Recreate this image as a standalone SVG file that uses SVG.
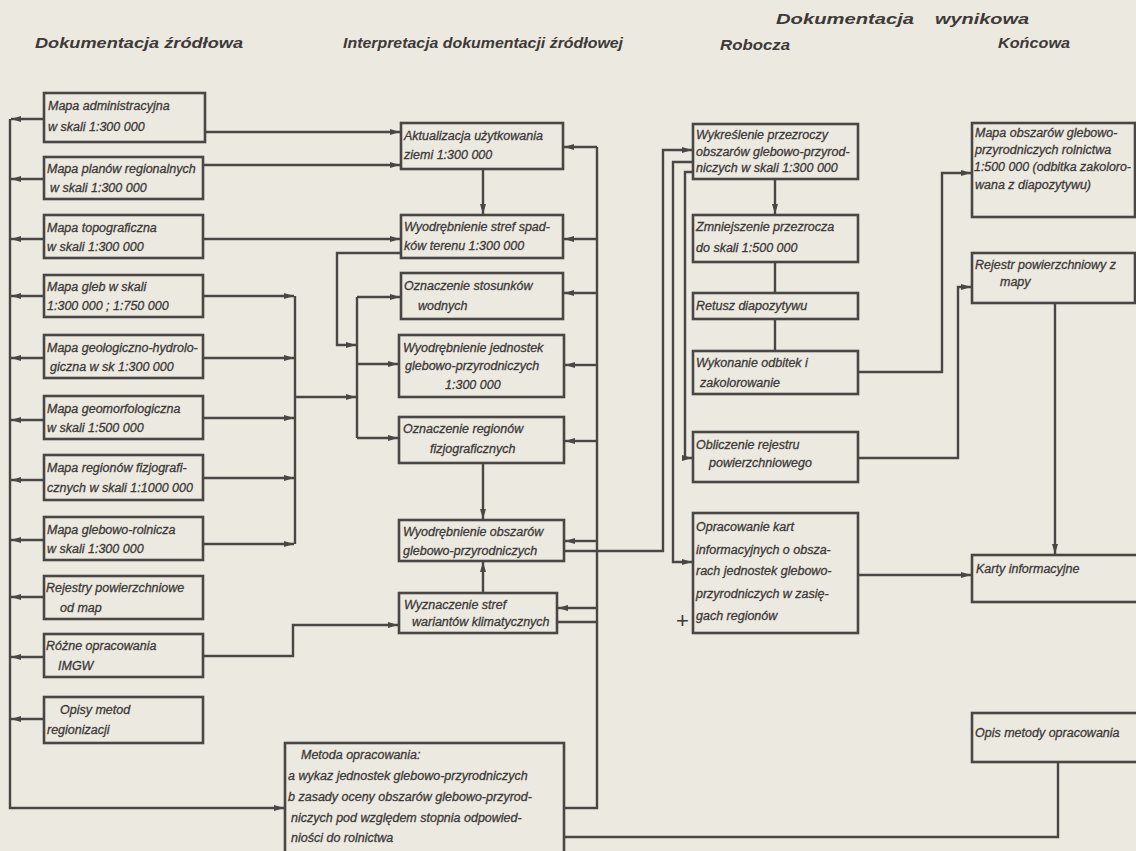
<svg xmlns="http://www.w3.org/2000/svg" width="1136" height="851" viewBox="0 0 1136 851">
<defs>
<marker id="ah" viewBox="0 0 10 6" refX="10" refY="3" markerWidth="10" markerHeight="6" markerUnits="userSpaceOnUse" orient="auto"><path d="M0,0 L10,3 L0,6 z" fill="#4a4643"/></marker>
<style>
.bx{fill:none;stroke:#4a4643;stroke-width:2.6}
.ln{fill:none;stroke:#4a4643;stroke-width:2.4}
.ar{marker-end:url(#ah)}
.t{font-family:"Liberation Sans",Arial,sans-serif;font-style:italic;font-size:12.5px;fill:#3d3a37;stroke:#3d3a37;stroke-width:0.3}
.h{font-family:"Liberation Sans",Arial,sans-serif;font-style:italic;font-weight:bold;font-size:14.5px;fill:#3d3a37}
</style>
</defs>
<rect x="0" y="0" width="1136" height="851" fill="#ece9e1"/>

<g id="headers">
<text class="h" x="776" y="24" textLength="138" lengthAdjust="spacingAndGlyphs">Dokumentacja</text>
<text class="h" x="935" y="24" textLength="94" lengthAdjust="spacingAndGlyphs">wynikowa</text>
<text class="h" x="35" y="48" textLength="208" lengthAdjust="spacingAndGlyphs">Dokumentacja źródłowa</text>
<text class="h" x="343" y="48" textLength="280" lengthAdjust="spacingAndGlyphs">Interpretacja dokumentacji źródłowej</text>
<text class="h" x="720" y="50" textLength="70" lengthAdjust="spacingAndGlyphs">Robocza</text>
<text class="h" x="998" y="48" textLength="72" lengthAdjust="spacingAndGlyphs">Końcowa</text>
</g>

<g id="connectors">
<path class="ln" d="M10,119 V808 H284" style="marker-end:url(#ah)"/>
<path class="ln ar" d="M44,119 H11"/>
<path class="ln ar" d="M44,179 H11"/>
<path class="ln ar" d="M44,239 H11"/>
<path class="ln ar" d="M44,296 H11"/>
<path class="ln ar" d="M44,358 H11"/>
<path class="ln ar" d="M44,420 H11"/>
<path class="ln ar" d="M44,480 H11"/>
<path class="ln ar" d="M44,540 H11"/>
<path class="ln ar" d="M44,597 H11"/>
<path class="ln ar" d="M44,657 H11"/>
<path class="ln ar" d="M44,719 H11"/>
<path class="ln ar" d="M205,132 H400"/>
<path class="ln ar" d="M203,165 H400"/>
<path class="ln ar" d="M203,239 H400"/>
<path class="ln ar" d="M203,296 H294"/>
<path class="ln" d="M295,296 V544"/>
<path class="ln ar" d="M203,358 H294"/>
<path class="ln ar" d="M203,418 H294"/>
<path class="ln ar" d="M203,478 H294"/>
<path class="ln ar" d="M203,544 H294"/>
<path class="ln ar" d="M295,397 H356"/>
<path class="ln ar" d="M203,656 H293 V625 H398"/>
<path class="ln ar" d="M401,253 H337 V345 H356"/>
<path class="ln ar" d="M357,297 H400"/>
<path class="ln" d="M357,297 V438"/>
<path class="ln ar" d="M357,364 H398"/>
<path class="ln ar" d="M357,438 H398"/>
<path class="ln ar" d="M483,169 V214"/>
<path class="ln ar" d="M483,463 V519"/>
<path class="ln ar" d="M483,593 V562"/>
<path class="ln" d="M564,808 H597 V147"/>
<path class="ln ar" d="M597,147 H564"/>
<path class="ln ar" d="M597,239 H564"/>
<path class="ln ar" d="M597,293 H564"/>
<path class="ln ar" d="M597,365 H565"/>
<path class="ln ar" d="M597,441 H565"/>
<path class="ln ar" d="M597,541 H565"/>
<path class="ln ar" d="M597,608 H558"/>
<path class="ln" d="M557,622 H597"/>
<path class="ln ar" d="M564,551 H663 V150 H692"/>
<path class="ln ar" d="M692,162 H673 V562 H692"/>
<path class="ln ar" d="M692,172 H685 V458 H692"/>
<path class="ln ar" d="M775,179 V214"/>
<path class="ln" d="M775,262 V293"/>
<path class="ln" d="M775,319 V351"/>
<path class="ln ar" d="M858,372 H942 V173 H971"/>
<path class="ln ar" d="M858,458 H958 V287 H971"/>
<path class="ln ar" d="M858,575 H971"/>
<path class="ln ar" d="M1055,303 V554"/>
<path class="ln" d="M1058,762 V837 H564"/>
</g>

<g id="src1"><rect class="bx" x="44" y="93" width="161" height="49"/><text class="t" x="48" y="110">Mapa administracyjna</text><text class="t" x="48" y="131">w skali 1:300 000</text></g>
<g id="src2"><rect class="bx" x="44" y="157" width="159" height="42"/><text class="t" x="47" y="173">Mapa planów regionalnych</text><text class="t" x="50" y="192">w skali 1:300 000</text></g>
<g id="src3"><rect class="bx" x="44" y="215" width="159" height="43"/><text class="t" x="47" y="232">Mapa topograficzna</text><text class="t" x="47" y="251">w skali 1:300 000</text></g>
<g id="src4"><rect class="bx" x="44" y="275" width="159" height="42"/><text class="t" x="47" y="291">Mapa gleb w skali</text><text class="t" x="47" y="310">1:300 000 ; 1:750 000</text></g>
<g id="src5"><rect class="bx" x="44" y="335" width="159" height="43"/><text class="t" x="47" y="352">Mapa geologiczno-hydrolo-</text><text class="t" x="50" y="371">giczna w sk 1:300 000</text></g>
<g id="src6"><rect class="bx" x="44" y="396" width="159" height="43"/><text class="t" x="47" y="413">Mapa geomorfologiczna</text><text class="t" x="47" y="432">w skali 1:500 000</text></g>
<g id="src7"><rect class="bx" x="44" y="455" width="159" height="45"/><text class="t" x="47" y="472">Mapa regionów fizjografi-</text><text class="t" x="47" y="492">cznych w skali 1:1000 000</text></g>
<g id="src8"><rect class="bx" x="44" y="517" width="159" height="43"/><text class="t" x="47" y="534">Mapa glebowo-rolnicza</text><text class="t" x="47" y="553">w skali 1:300 000</text></g>
<g id="src9"><rect class="bx" x="44" y="576" width="159" height="43"/><text class="t" x="46" y="592">Rejestry powierzchniowe</text><text class="t" x="60" y="612">od map</text></g>
<g id="src10"><rect class="bx" x="44" y="634" width="159" height="43"/><text class="t" x="46" y="650">Różne opracowania</text><text class="t" x="58" y="670">IMGW</text></g>
<g id="src11"><rect class="bx" x="44" y="697" width="159" height="46"/><text class="t" x="60" y="714">Opisy metod</text><text class="t" x="47" y="734">regionizacji</text></g>

<g id="int1"><rect class="bx" x="401" y="123" width="162" height="46"/><text class="t" x="404" y="140">Aktualizacja użytkowania</text><text class="t" x="404" y="159">ziemi 1:300 000</text></g>
<g id="int2"><rect class="bx" x="401" y="215" width="162" height="43"/><text class="t" x="404" y="231">Wyodrębnienie stref spad-</text><text class="t" x="404" y="250">ków terenu 1:300 000</text></g>
<g id="int3"><rect class="bx" x="401" y="273" width="162" height="46"/><text class="t" x="404" y="290">Oznaczenie stosunków</text><text class="t" x="418" y="310">wodnych</text></g>
<g id="int4"><rect class="bx" x="399" y="335" width="165" height="62"/><text class="t" x="403" y="352">Wyodrębnienie jednostek</text><text class="t" x="405" y="370">glebowo-przyrodniczych</text><text class="t" x="445" y="389">1:300 000</text></g>
<g id="int5"><rect class="bx" x="399" y="417" width="165" height="46"/><text class="t" x="403" y="433">Oznaczenie regionów</text><text class="t" x="430" y="453">fizjograficznych</text></g>
<g id="int6"><rect class="bx" x="399" y="520" width="165" height="41"/><text class="t" x="403" y="536">Wyodrębnienie obszarów</text><text class="t" x="403" y="555">glebowo-przyrodniczych</text></g>
<g id="int7"><rect class="bx" x="399" y="593" width="158" height="40"/><text class="t" x="404" y="609">Wyznaczenie stref</text><text class="t" x="412" y="626">wariantów klimatycznych</text></g>
<g id="method"><rect class="bx" x="285" y="743" width="279" height="125"/><text class="t" x="301" y="759">Metoda opracowania:</text><text class="t" x="288" y="780">a wykaz jednostek glebowo-przyrodniczych</text><text class="t" x="288" y="801">b zasady oceny obszarów glebowo-przyrod-</text><text class="t" x="291" y="822">niczych pod względem stopnia odpowied-</text><text class="t" x="291" y="842">niości do rolnictwa</text></g>

<g id="work1"><rect class="bx" x="693" y="124" width="165" height="55"/><text class="t" x="696" y="139">Wykreślenie przezroczy</text><text class="t" x="696" y="156">obszarów glebowo-przyrod-</text><text class="t" x="696" y="172">niczych w skali 1:300 000</text></g>
<g id="work2"><rect class="bx" x="693" y="215" width="165" height="47"/><text class="t" x="696" y="231">Zmniejszenie przezrocza</text><text class="t" x="696" y="252">do skali 1:500 000</text></g>
<g id="work3"><rect class="bx" x="693" y="293" width="165" height="26"/><text class="t" x="696" y="310">Retusz diapozytywu</text></g>
<g id="work4"><rect class="bx" x="693" y="351" width="165" height="43"/><text class="t" x="696" y="367">Wykonanie odbitek i</text><text class="t" x="700" y="387">zakolorowanie</text></g>
<g id="work5"><rect class="bx" x="693" y="432" width="165" height="50"/><text class="t" x="696" y="449">Obliczenie rejestru</text><text class="t" x="709" y="467">powierzchniowego</text></g>
<g id="work6"><rect class="bx" x="693" y="513" width="165" height="120"/><text class="t" x="696" y="531">Opracowanie kart</text><text class="t" x="696" y="554">informacyjnych o obsza-</text><text class="t" x="696" y="575">rach jednostek glebowo-</text><text class="t" x="696" y="598">przyrodniczych w zasię-</text><text class="t" x="696" y="620">gach regionów</text><text x="676" y="628" style="font-family:'Liberation Sans',sans-serif;font-size:22px;fill:#3d3a37">+</text></g>

<g id="fin1"><rect class="bx" x="972" y="123" width="163" height="94"/><text class="t" x="975" y="137">Mapa obszarów glebowo-</text><text class="t" x="975" y="154">przyrodniczych rolnictwa</text><text class="t" x="974" y="171" textLength="157" lengthAdjust="spacingAndGlyphs">1:500 000 (odbitka zakoloro-</text><text class="t" x="975" y="189">wana z diapozytywu)</text></g>
<g id="fin2"><rect class="bx" x="972" y="253" width="163" height="50"/><text class="t" x="975" y="269">Rejestr powierzchniowy z</text><text class="t" x="1000" y="286">mapy</text></g>
<g id="fin3"><rect class="bx" x="972" y="555" width="170" height="47"/><text class="t" x="976" y="573">Karty informacyjne</text></g>
<g id="fin4"><rect class="bx" x="972" y="713" width="170" height="49"/><text class="t" x="975" y="737">Opis metody opracowania</text></g>
</svg>
